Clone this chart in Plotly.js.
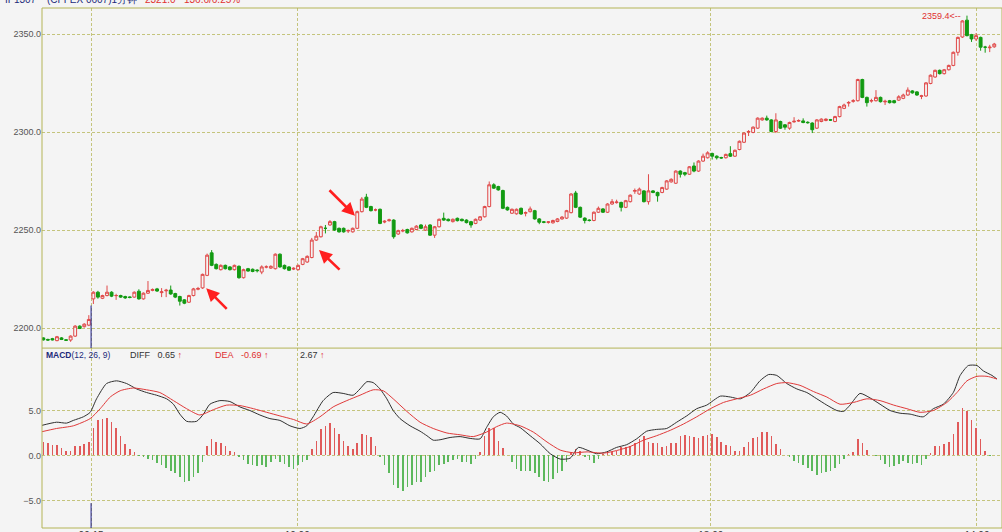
<!DOCTYPE html>
<html>
<head>
<meta charset="utf-8">
<script src="https://cdn.plot.ly/plotly-3.0.1.min.js"></script>
<style>
html,body{margin:0;padding:0;background:#f4f4f4;}
#chart{width:1002px;height:532px;}
</style>
</head>
<body>
<div id="chart"></div>
<script>
// ---- 1-minute candles (IF1307) ----
const openP = [2195.0,2194.2,2194.6,2193.6,2195.0,2194.0,2193.9,2195.9,2201.0,2200.7,2201.5,
2214.9,2218.3,2215.2,2216.6,2218.3,2216.6,2216.6,2216.1,2215.9,2215.8,
2218.8,2214.9,2217.8,2219.2,2220.0,2218.1,2219.0,2219.4,2217.6,2216.1,
2214.4,2213.2,2216.6,2219.8,2220.5,2226.9,2238.4,2232.5,2229.8,2232.0,
2231.2,2229.8,2231.5,2225.7,2230.3,2230.0,2229.6,2228.6,2231.2,2230.6,
2230.3,2237.7,2232.0,2231.2,2230.1,2229.8,2232.5,2233.7,2236.0,2244.9,
2246.6,2250.9,2252.6,2254.3,2250.9,2250.9,2249.5,2249.1,2250.9,2259.4,
2266.8,2262.0,2260.3,2260.6,2254.1,2254.8,2255.1,2248.0,2249.5,2250.3,
2249.1,2250.3,2252.6,2250.0,2252.6,2247.4,2251.7,2256.0,2255.5,2254.3,
2256.0,2255.5,2255.1,2254.3,2253.4,2255.1,2256.8,2262.0,2273.1,2272.2,
2270.2,2261.6,2258.6,2258.3,2261.1,2258.6,2259.4,
2259.9,2255.7,2254.2,2253.9,2253.7,2254.4,2255.7,2256.1,2258.9,2268.9,
2261.6,2256.1,2255.1,2254.9,2259.1,2260.8,2259.1,2263.3,2264.0,2264.1,
2261.6,2264.5,2269.8,2268.4,2270.0,2264.5,2270.0,2269.2,2269.2,2270.9,
2274.6,2273.9,2280.1,2279.3,2278.5,2282.7,2280.1,2285.2,2286.9,2289.1,
2287.7,2287.0,2286.9,2289.0,2287.7,2291.1,2294.8,2300.0,2299.8,2302.0,
2306.2,2307.1,2306.2,2300.3,2305.4,2303.7,2302.0,2305.2,2305.6,2305.7,
2305.0,2304.6,2302.0,2305.4,2305.9,2306.3,2305.4,2307.9,2312.1,2314.8,
2315.7,2316.0,2326.8,2317.7,2315.8,2316.0,2317.7,2315.4,2316.0,2316.0,
2316.3,2317.2,2318.9,2321.0,2320.5,2318.2,2318.4,2324.8,2328.1,2331.5,
2329.8,2331.8,2334.0,2340.7,
2348.5,2357.1,2349.7,2347.5,2348.3,2343.3,2343.0,2343.5];
const highP = [2195.3,2194.6,2195.0,2196.0,2195.4,2194.3,2196.3,2201.5,2201.4,2202.5,2206.6,
2218.8,2219.0,2217.0,2221.7,2218.8,2217.5,2217.0,2216.5,2216.2,2218.7,
2219.8,2218.2,2224.0,2220.2,2220.5,2220.4,2220.0,2221.7,2218.0,2216.5,
2214.8,2217.0,2220.5,2221.0,2227.8,2238.0,2239.8,2233.0,2232.5,2232.4,
2231.6,2232.4,2232.0,2230.3,2230.7,2230.4,2230.0,2232.0,2232.0,2232.0,
2238.1,2238.1,2232.4,2231.6,2231.0,2232.4,2235.8,2237.1,2246.0,2249.0,
2252.2,2252.6,2255.1,2254.7,2251.3,2251.3,2250.3,2251.3,2259.9,2266.8,
2268.5,2262.4,2261.0,2261.0,2255.0,2255.8,2255.5,2250.2,2250.6,2250.7,
2251.3,2252.5,2253.0,2252.8,2253.0,2252.1,2255.9,2258.9,2255.9,2255.9,
2256.4,2255.9,2255.5,2254.7,2255.9,2257.2,2262.4,2274.8,2273.9,2272.6,
2270.6,2262.0,2261.0,2261.0,2261.5,2259.5,2262.0,
2260.3,2256.1,2254.6,2254.6,2255.3,2256.1,2257.2,2260.3,2268.8,2270.0,
2262.0,2256.5,2255.5,2259.5,2262.0,2261.2,2263.7,2265.8,2265.5,2264.5,
2265.4,2268.2,2271.2,2271.7,2270.4,2278.5,2270.4,2269.6,2272.1,2275.5,
2276.4,2280.5,2280.5,2279.7,2282.7,2284.5,2285.6,2289.0,2290.2,2289.5,
2288.1,2287.4,2289.0,2292.8,2291.1,2295.7,2299.9,2301.0,2302.9,2307.5,
2307.5,2308.4,2306.6,2309.6,2305.8,2304.1,2305.3,2307.6,2306.5,2307.0,
2305.5,2305.0,2306.6,2307.0,2307.0,2306.7,2308.3,2313.4,2314.5,2315.8,
2316.8,2327.2,2327.2,2318.1,2317.0,2321.4,2318.1,2316.5,2316.4,2316.4,
2318.8,2319.6,2322.8,2321.4,2320.9,2319.0,2325.5,2329.4,2331.9,2331.9,
2332.2,2334.4,2341.1,2348.7,
2357.1,2359.4,2350.1,2350.5,2348.7,2344.0,2344.5,2345.5];
const lowP = [2193.6,2193.5,2193.7,2193.3,2193.9,2193.4,2193.0,2195.5,2199.5,2200.3,2201.0,
2212.3,2215.0,2214.8,2216.2,2215.8,2214.4,2215.4,2214.9,2215.2,2215.5,
2214.5,2214.5,2217.4,2218.8,2218.5,2215.8,2215.8,2217.0,2215.3,2211.5,
2212.2,2212.8,2216.2,2219.3,2220.0,2226.5,2231.6,2229.9,2229.4,2229.9,
2229.4,2229.4,2225.2,2225.3,2228.8,2228.5,2228.4,2227.5,2230.5,2230.2,
2229.9,2230.8,2229.9,2229.1,2229.6,2229.4,2232.1,2233.3,2235.6,2244.5,
2246.2,2248.3,2252.2,2249.6,2248.7,2248.7,2248.5,2248.7,2250.5,2259.0,
2261.2,2259.5,2259.6,2253.0,2253.5,2254.3,2245.6,2247.5,2248.9,2248.2,
2248.7,2249.9,2250.5,2249.6,2247.0,2246.0,2251.3,2254.7,2254.4,2253.9,
2254.4,2254.4,2253.4,2251.2,2253.0,2254.7,2256.4,2261.6,2271.0,2270.1,
2260.7,2259.9,2258.2,2257.9,2257.8,2257.0,2259.0,
2255.3,2253.0,2253.5,2253.3,2253.3,2254.0,2255.3,2255.7,2258.5,2261.2,
2256.2,2253.4,2254.4,2254.5,2258.7,2258.7,2258.7,2262.9,2263.5,2259.5,
2261.2,2264.1,2268.5,2268.0,2264.1,2263.0,2268.8,2264.5,2268.8,2270.5,
2274.2,2273.5,2276.8,2277.5,2278.1,2279.5,2279.7,2284.8,2286.5,2286.0,
2286.0,2286.4,2286.5,2287.3,2287.3,2290.7,2294.4,2298.0,2299.4,2301.6,
2305.8,2305.8,2299.9,2299.5,2301.6,2301.2,2301.2,2304.8,2305.2,2304.5,
2304.3,2299.5,2301.6,2305.0,2305.5,2305.7,2305.0,2307.5,2311.7,2313.0,
2315.0,2315.6,2317.3,2313.0,2315.0,2315.6,2315.1,2313.8,2314.6,2314.6,
2315.9,2316.8,2318.5,2319.6,2318.5,2316.8,2318.0,2324.4,2327.7,2329.4,
2329.4,2331.4,2333.6,2339.0,
2348.0,2348.8,2346.0,2346.5,2341.5,2340.5,2340.8,2343.0];
const closeP = [2194.0,2193.9,2194.0,2195.6,2194.2,2193.8,2195.9,2201.0,2199.8,2202.0,2204.4,
2218.3,2215.8,2216.6,2218.3,2216.3,2216.6,2215.8,2215.4,2215.6,2218.3,
2214.9,2217.8,2219.2,2219.7,2218.9,2218.5,2219.3,2217.4,2215.8,2213.7,
2212.7,2216.6,2220.0,2220.2,2227.4,2237.2,2232.0,2230.3,2232.0,2230.3,
2229.8,2232.0,2225.7,2229.8,2229.1,2228.9,2229.3,2231.2,2231.2,2231.5,
2237.7,2231.2,2230.3,2229.5,2230.5,2232.0,2235.4,2236.6,2244.9,2246.9,
2251.7,2250.9,2254.3,2250.0,2249.1,2249.1,2249.8,2250.9,2259.4,2265.8,
2261.6,2259.9,2260.3,2253.4,2254.5,2255.2,2246.6,2249.7,2249.8,2248.6,
2250.9,2252.0,2250.9,2251.7,2247.4,2251.7,2255.5,2255.1,2254.8,2255.5,
2254.8,2254.8,2253.8,2252.6,2255.5,2256.8,2262.0,2273.1,2271.4,2270.5,
2261.1,2260.3,2260.6,2260.6,2258.2,2258.9,2260.8,
2255.7,2254.0,2254.0,2254.2,2254.9,2255.7,2256.6,2259.9,2268.4,2261.6,
2256.6,2254.9,2254.9,2259.1,2261.1,2259.1,2263.3,2264.5,2264.3,2261.6,
2265.0,2267.8,2270.2,2270.9,2264.5,2270.0,2269.2,2267.5,2271.7,2275.1,
2275.9,2280.1,2278.5,2278.5,2282.3,2280.1,2285.2,2287.7,2289.4,2287.7,
2286.9,2286.8,2288.6,2287.7,2290.7,2295.3,2299.5,2300.3,2302.5,2307.1,
2307.1,2306.2,2300.3,2306.2,2302.0,2302.5,2304.9,2305.5,2305.9,2304.9,
2304.8,2301.2,2306.2,2306.6,2306.6,2306.1,2307.9,2313.0,2313.8,2315.1,
2316.0,2326.8,2317.7,2315.0,2316.1,2317.7,2315.5,2315.7,2315.0,2315.0,
2318.0,2318.9,2321.4,2320.0,2318.9,2318.5,2325.1,2329.0,2331.5,2329.8,
2331.8,2334.0,2340.7,2348.3,
2356.7,2349.2,2347.5,2349.2,2343.3,2343.3,2343.3,2344.9];

// ---- MACD histogram, one bar per candle ----
const macdBar = [1.55,1.4,1.2,1.2,0.8,0.55,0.55,1.0,1.1,1.3,1.5,3.1,3.9,4.1,4.15,3.7,3.0,2.2,1.3,0.75,0.4,
-0.1,-0.2,-0.35,-0.55,-0.8,-1.1,-1.4,-1.7,-2.0,-2.4,-3.0,-2.8,-2.4,-1.9,-0.75,
1.0,1.8,1.55,1.4,1.0,0.55,0.4,
-0.2,-0.55,-1.0,-1.1,-1.2,-1.1,-1.3,-0.7,-0.4,-0.7,-0.9,-1.3,-1.5,-1.1,-0.75,-0.45,
0.75,1.65,2.9,3.25,3.6,3.1,2.4,1.65,1.1,0.75,1.4,2.4,2.3,2.0,1.1,
-0.2,-1.1,-2.0,-3.3,-3.6,-3.9,-3.5,-3.3,-2.9,-3.0,-2.4,-1.85,-1.7,-1.1,-0.9,-0.75,-0.55,-0.4,-0.75,-0.7,-0.9,-0.4,
0.4,2.2,3.1,3.1,1.65,0.8,0.1,-0.75,
-1.5,-1.7,-1.7,-1.7,-2.0,-2.4,-2.8,-2.9,-2.6,-2.0,-1.7,-0.75,
0.4,0.75,0.55,
-0.2,-0.45,-0.8,-0.4,
0.2,0.3,0.4,0.55,0.9,0.9,1.1,1.4,1.85,2.2,1.55,1.4,1.4,0.9,1.1,1.4,1.4,2.15,2.3,2.15,
2.0,1.9,2.15,2.3,2.4,2.0,1.55,1.2,1.0,0.55,0.55,0.9,1.55,1.9,2.0,2.6,2.6,2.2,1.3,0.75,
0,
-0.2,-0.65,-0.8,-1.1,-1.4,-1.7,-2.2,-2.0,-1.85,-1.7,-1.4,-0.9,-0.4,
0.2,0.4,1.8,1.4,0.65,0.1,
-0.1,-0.45,-1.0,-1.3,-1.2,-1.0,-0.65,-0.8,-0.9,-0.85,-1.1,-0.4,
0.3,1.0,1.1,1.3,1.5,2.4,3.7,5.3,5.0,4.0,3.1,1.8,0.55,
-0.1];

// ---- DIFF line (sampled at candle positions) ----
const diffX = [-0.7,2.9,5.1,6.6,8.8,10.3,11.7,13.9,16.1,18.3,20.5,22.7,24.9,27.1,28.6,30.0,31.5,33.7,35.2,36.6,38.8,41.0,43.2,45.4,47.6,49.8,52.0,54.2,56.4,57.9,59.3,61.5,63.7,65.9,68.1,69.6,71.1,72.5,74.0,75.5,76.9,78.4,80.6,82.8,84.3,85.7,87.2,89.4,91.6,93.8,96.0,97.4,98.9,100.4,101.8,103.3,
104.8,107.0,109.2,111.4,113.6,115.8,117.6,119.5,121.6,123.8,126.0,128.2,130.4,132.6,134.8,137.0,139.2,141.4,143.6,145.8,148.8,151.0,153.2,155.4,157.5,159.4,161.2,163.4,165.6,167.8,170.0,172.2,174.4,175.9,177.3,179.5,181.7,183.9,186.1,188.3,190.5,193.4,195.6,197.8,200.0,201.5,203.3,205.2,206.6,208.5,209.6];
const diffV = [3.3,3.7,3.6,3.9,4.3,4.8,6.3,8.0,8.3,8.0,7.4,7.0,6.7,6.3,5.7,4.6,3.8,3.8,4.6,5.7,6.1,6.0,5.4,5.0,4.5,4.1,3.9,3.3,3.0,3.3,4.3,6.1,7.0,6.9,6.7,7.4,8.2,8.1,7.4,6.3,5.0,4.1,3.3,2.7,2.2,1.7,1.75,2.0,2.1,1.9,1.85,3.1,4.3,4.8,4.4,3.5,
3.1,2.2,1.3,0.2,-0.4,-0.3,0.9,0.6,0.2,0.4,0.9,1.2,1.85,2.7,2.9,3.0,3.7,4.4,5.2,5.6,6.6,6.5,6.3,7.0,8.3,9.0,8.9,8.0,7.4,7.0,6.3,5.6,5.0,4.9,5.6,6.9,6.4,5.7,5.0,4.7,4.6,4.3,5.2,5.7,7.0,8.9,10.0,10.0,9.4,8.9,8.5];

// ---- DEA line ----
const deaX = [-0.7,2.9,6.6,10.3,12.5,14.7,16.9,19.8,22.7,25.6,28.6,31.5,34.4,37.4,40.3,43.2,46.2,49.1,52.0,55.0,57.9,60.8,63.7,66.7,69.6,72.5,74.7,76.9,79.9,82.8,85.7,88.7,91.6,94.5,97.4,99.6,101.8,
104.8,107.7,110.7,113.6,116.5,119.5,123.1,126.0,129.0,131.9,134.8,137.8,140.7,143.6,146.6,149.5,152.4,155.4,158.3,161.2,163.4,166.3,169.3,172.2,175.1,178.1,181.0,183.9,186.9,189.8,192.7,195.6,198.6,200.8,203.0,205.2,207.4,209.6];
const deaV = [2.6,3.0,3.3,4.1,5.2,6.5,7.2,7.5,7.3,7.0,6.1,5.2,4.5,5.1,5.6,5.55,5.2,4.8,4.4,4.0,3.5,4.3,5.4,6.1,6.7,7.3,7.2,6.3,4.9,3.7,3.0,2.5,2.3,2.1,2.6,3.2,3.6,
3.3,2.6,1.5,0.6,0.3,0.4,0.26,0.55,1.0,1.7,2.2,2.8,3.5,4.3,5.2,5.9,6.3,6.7,7.4,8.0,8.1,7.8,7.1,6.5,5.7,5.9,6.3,6.1,5.6,5.2,4.8,5.0,5.9,7.0,8.3,8.8,8.8,8.5];

// ---- axis labels & annotations data ----
const timeTickPos = [10.5, 55.8, 146.7, 205.2];
const timeTickText = ['09:15', '10:00', '13:00', '14:00'];
const priceTicks = [2200, 2250, 2300, 2350];
const macdTicks = [-5, 0, 5];
const arrowX = [35.8, 60.6, 68.5];
const arrowY = [2220.3, 2239.8, 2257.3];
const arrowDX = [22, 22, -27];
const arrowDY = [22, 21, -27];
const dayStartIndex = 10.5;

const idx = openP.map((_, i) => i);
const barIdx = macdBar.map((_, i) => i);

const RED = '#e04848';
const GREEN = '#129a12';
const GRID = '#c4c47c';
const BORDER = '#b4b456';

const traces = [
  {
    type: 'candlestick', x: idx, open: openP, high: highP, low: lowP, close: closeP,
    xaxis: 'x', yaxis: 'y', whiskerwidth: 0,
    increasing: {line: {color: RED, width: 1}, fillcolor: '#f4f4f4'},
    decreasing: {line: {color: GREEN, width: 1}, fillcolor: GREEN},
    hoverinfo: 'skip'
  },
  {
    type: 'bar', x: barIdx, y: macdBar, xaxis: 'x', yaxis: 'y2', width: 0.35,
    marker: {color: macdBar.map(v => v >= 0 ? '#e05a5a' : '#5cb85c'), line: {width: 0}},
    hoverinfo: 'skip'
  },
  {
    type: 'scatter', mode: 'lines', x: diffX, y: diffV, xaxis: 'x', yaxis: 'y2',
    line: {color: '#303030', width: 1, shape: 'spline', smoothing: 0.6}, hoverinfo: 'skip'
  },
  {
    type: 'scatter', mode: 'lines', x: deaX, y: deaV, xaxis: 'x', yaxis: 'y2',
    line: {color: '#e03a3a', width: 1, shape: 'spline', smoothing: 0.6}, hoverinfo: 'skip'
  }
];

const splitY = 0.346;
const yPriceRange = [2189.8, 2363.3];
const yMacdRange = [-8.06, 11.94];
const px = p => (p - 42) / 960;

let maxI = 0;
highP.forEach((h, i) => { if (h > highP[maxI]) maxI = i; });

const hdr = (x, text, color) => ({xref: 'paper', yref: 'paper', x: px(x), y: 1, yshift: 9, xanchor: 'left',
  yanchor: 'middle', showarrow: false, text: text, font: {size: 10, color: color}});
const sub = (x, text, color, size) => ({xref: 'paper', yref: 'paper', x: px(x), y: splitY, yshift: -7, xanchor: 'left',
  yanchor: 'middle', showarrow: false, text: text, font: {size: size, color: color}});

const annotations = [
  hdr(3, 'IF1307', '#1c2a7a'),
  hdr(45, '(CFFEX 0607)1分钟', '#1c2a7a'),
  hdr(143, '2321.0', '#e03030'),
  hdr(182, '136.6/6.25%', '#e03030'),
  sub(44, '<b>MACD</b>(12, 26, 9)', '#1c2a7a', 8.5),
  sub(128, 'DIFF&nbsp;&nbsp; 0.65 <span style="color:#e03030">↑</span>', '#333', 9),
  sub(213, 'DEA&nbsp;&nbsp; -0.69 ↑', '#e03030', 9),
  sub(298, '2.67 <span style="color:#e03030">↑</span>', '#333', 9),
  {xref: 'x', yref: 'y', x: maxI, y: highP[maxI], xshift: -4, xanchor: 'right', yanchor: 'middle', showarrow: false,
   text: highP[maxI].toFixed(1) + '<--', font: {size: 9, color: '#e03030'}}
];
arrowX.forEach((ax, i) => {
  annotations.push({xref: 'x', yref: 'y', x: ax, y: arrowY[i], ax: arrowDX[i], ay: arrowDY[i], text: '',
    showarrow: true, arrowhead: 2, arrowsize: 1, arrowwidth: 2.6, arrowcolor: '#ff1e1e'});
});

const shapes = [
  {type: 'rect', xref: 'paper', yref: 'paper', x0: 0, x1: 1, y0: 0, y1: 1, line: {color: BORDER, width: 1}},
  {type: 'line', xref: 'paper', yref: 'paper', x0: 0, x1: 1, y0: splitY, y1: splitY, line: {color: BORDER, width: 1}},
  {type: 'line', xref: 'x', yref: 'y', x0: dayStartIndex, x1: dayStartIndex, y0: yPriceRange[0], y1: 2211.5, line: {color: '#1a1a8a', width: 1}},
  {type: 'line', xref: 'x', yref: 'y2', x0: dayStartIndex, x1: dayStartIndex, y0: yMacdRange[0], y1: -5.3, line: {color: '#1a1a8a', width: 1}}
];

const layout = {
  width: 1002, height: 532,
  margin: {l: 42, r: 0, t: 8, b: 4},
  paper_bgcolor: '#f4f4f4', plot_bgcolor: '#f4f4f4',
  showlegend: false,
  font: {family: 'Liberation Sans, Arial, sans-serif'},
  bargap: 0,
  boxgap: 0.1,
  xaxis: {
    range: [-0.29, 210.7], anchor: 'y2', tickmode: 'array', tickvals: timeTickPos, ticktext: timeTickText,
    showgrid: true, gridcolor: GRID, griddash: '3px,2px', gridwidth: 1, zeroline: false, showline: false,
    ticks: '', tickfont: {size: 10, color: '#333'}, rangeslider: {visible: false}, fixedrange: true
  },
  yaxis: {
    domain: [splitY, 1], range: yPriceRange, anchor: 'x', tickmode: 'array', tickvals: priceTicks, tickformat: '.1f',
    showgrid: true, gridcolor: GRID, griddash: '3px,2px', zeroline: false, showline: false, ticks: '',
    tickfont: {size: 9, color: '#555'}, fixedrange: true
  },
  yaxis2: {
    domain: [0, splitY], range: yMacdRange, anchor: 'x', tickmode: 'array', tickvals: macdTicks, tickformat: '.1f',
    showgrid: true, gridcolor: GRID, griddash: '3px,2px', zeroline: false, showline: false, ticks: '',
    tickfont: {size: 9, color: '#555'}, fixedrange: true
  },
  annotations: annotations,
  shapes: shapes
};

Plotly.newPlot('chart', traces, layout, {staticPlot: true, displayModeBar: false});
</script>
</body>
</html>
